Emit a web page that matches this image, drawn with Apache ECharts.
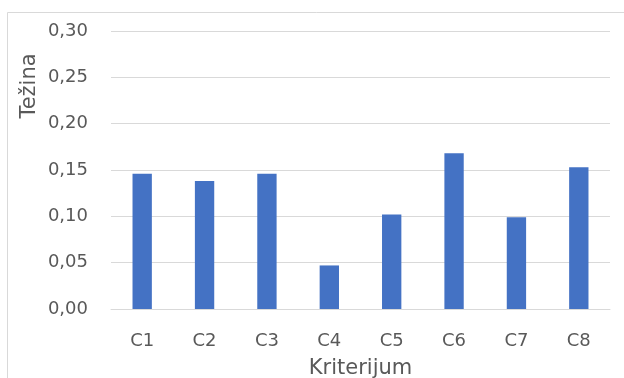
<!DOCTYPE html>
<html>
<head>
<meta charset="utf-8">
<script src="https://cdn.jsdelivr.net/npm/echarts@6/dist/echarts.min.js"></script>
<style>
  html, body { margin: 0; padding: 0; background: #fff; }
  #chart { width: 624px; height: 378px; }
</style>
</head>
<body>
<div id="chart"></div>
<script>
// Criteria and their weights
const categories = ['C1', 'C2', 'C3', 'C4', 'C5', 'C6', 'C7', 'C8'];
const weights = [0.146, 0.138, 0.146, 0.047, 0.102, 0.168, 0.099, 0.153];
const xTitle = 'Kriterijum';
const yTitle = 'Težina';

const FONT = 'DejaVu Sans';
const TEXT = '#595959';
const GRID = '#d9d9d9';

const chart = echarts.init(document.getElementById('chart'), null, { renderer: 'canvas' });
chart.setOption({
  animation: false,
  backgroundColor: '#fff',
  textStyle: { fontFamily: FONT },
  grid: { left: 111, right: 14, top: 31, bottom: 69, containLabel: false, outerBoundsMode: 'none' },
  graphic: [
    {
      type: 'rect',
      shape: { x: 7.5, y: 12.5, width: 700, height: 500 },
      style: { fill: 'none', stroke: GRID, lineWidth: 1 },
      silent: true
    },
    {
      type: 'text',
      x: 30, y: 86,
      rotation: Math.PI / 2,
      style: {
        text: yTitle, fontFamily: FONT, fontSize: 21, fill: TEXT,
        align: 'center', verticalAlign: 'middle'
      },
      silent: true
    }
  ],
  xAxis: {
    type: 'category',
    data: categories,
    name: xTitle,
    nameLocation: 'middle',
    nameGap: 49,
    nameTextStyle: { fontFamily: FONT, fontSize: 21, color: TEXT },
    axisLine: { show: true, lineStyle: { color: GRID, width: 1 } },
    axisTick: { show: false },
    axisLabel: { fontFamily: FONT, fontSize: 18, color: TEXT, margin: 23 }
  },
  yAxis: {
    type: 'value',
    min: 0, max: 0.30, interval: 0.05,
    axisLine: { show: false },
    axisTick: { show: false },
    splitLine: { lineStyle: { color: GRID, width: 1 } },
    axisLabel: {
      fontFamily: FONT, fontSize: 18, color: TEXT, margin: 23,
      formatter: v => v.toFixed(2).replace('.', ',')
    }
  },
  series: [{
    type: 'bar',
    data: weights,
    barWidth: '31%',
    itemStyle: { color: '#4472C4' }
  }]
});
</script>
</body>
</html>
